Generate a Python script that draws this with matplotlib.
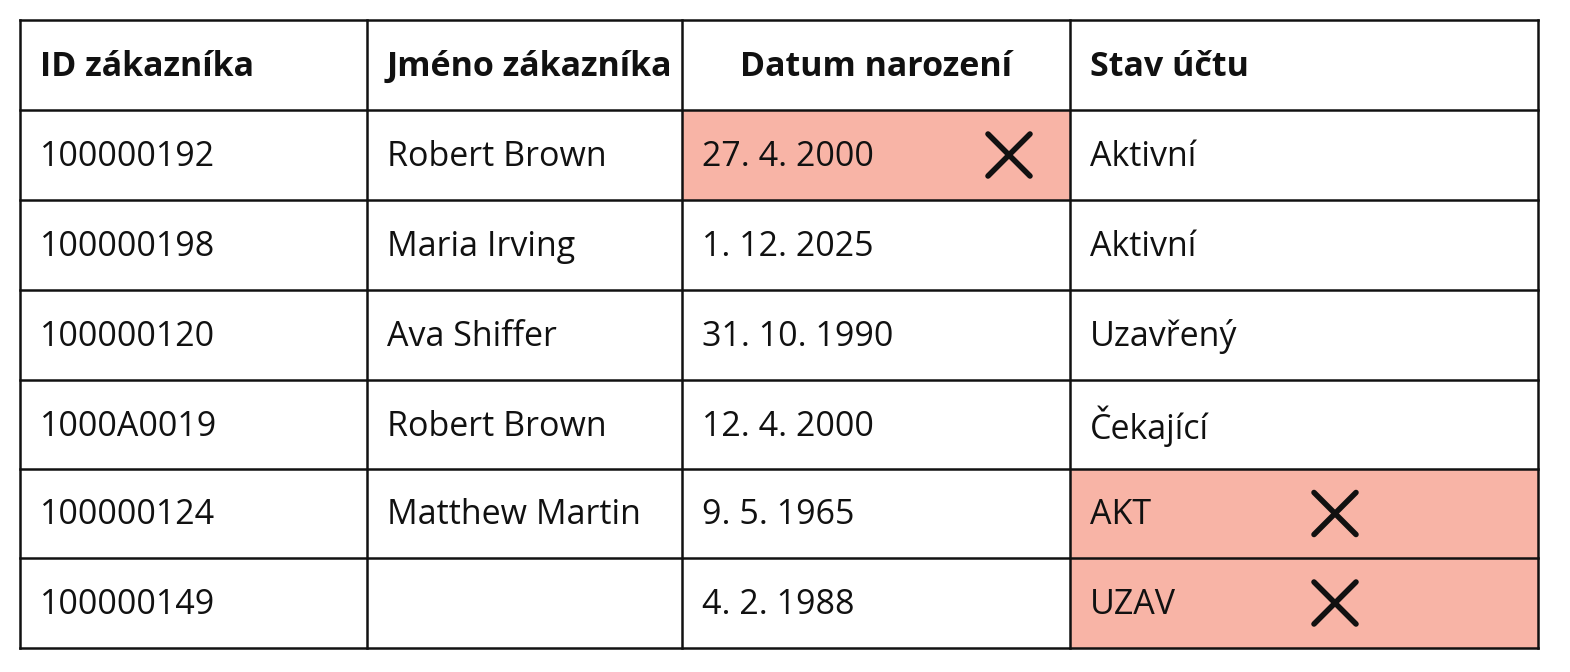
import matplotlib
matplotlib.use("Agg")
import matplotlib.pyplot as plt
from matplotlib.patches import Rectangle

headers = ["ID zákazníka", "Jméno zákazníka", "Datum narození", "Stav účtu"]
ids = ["100000192", "100000198", "100000120", "1000A0019", "100000124", "100000149"]
names = ["Robert Brown", "Maria Irving", "Ava Shiffer", "Robert Brown", "Matthew Martin", ""]
dates = ["27. 4. 2000", "1. 12. 2025", "31. 10. 1990", "12. 4. 2000", "9. 5. 1965", "4. 2. 1988"]
status = ["Aktivní", "Aktivní", "Uzavřený", "Čekající", "AKT", "UZAV"]
errors = [(0, 2), (4, 3), (5, 3)]  # (row, col) flagged cells

col_edges = [20, 367, 682, 1070, 1538]
row_edges = [20, 110, 200, 290, 380, 469, 558, 648]
x_offset = {2: 1009 - 682, 3: 1335 - 1070}
hl = "#F8B4A6"

plt.rcParams['font.family'] = ['Open Sans', 'DejaVu Sans']
fig = plt.figure(figsize=(15.7, 6.72), dpi=100)
ax = fig.add_axes([0, 0, 1, 1])
ax.set_xlim(0, 1570)
ax.set_ylim(672, 0)
ax.axis("off")

for r, c in errors:
    y0, y1 = row_edges[r + 1], row_edges[r + 2]
    ax.add_patch(Rectangle((col_edges[c], y0), col_edges[c + 1] - col_edges[c], y1 - y0,
                           facecolor=hl, edgecolor="none", zorder=1))
    cx = col_edges[c] + x_offset[c]
    cy = (y0 + y1) / 2
    s = 21
    ax.plot([cx - s, cx + s], [cy - s, cy + s], color="#111111", lw=4, solid_capstyle="round", zorder=3)
    ax.plot([cx - s, cx + s], [cy + s, cy - s], color="#111111", lw=4, solid_capstyle="round", zorder=3)

for x in col_edges:
    ax.plot([x, x], [row_edges[0], row_edges[-1]], color="#111111", lw=1.8, zorder=2)
for y in row_edges:
    ax.plot([col_edges[0], col_edges[-1]], [y, y], color="#111111", lw=1.8, zorder=2)

fs = 24.5
dy = 2
for c, h in enumerate(headers):
    cy = (row_edges[0] + row_edges[1]) / 2 + dy
    if c == 2:
        ax.text((col_edges[c] + col_edges[c + 1]) / 2, cy, h, ha="center", va="center",
                fontsize=fs, fontweight="bold", color="#111111", zorder=4)
    else:
        ax.text(col_edges[c] + 20, cy, h, ha="left", va="center",
                fontsize=fs, fontweight="bold", color="#111111", zorder=4)

cols = [ids, names, dates, status]
for c, vals in enumerate(cols):
    for r, v in enumerate(vals):
        cy = (row_edges[r + 1] + row_edges[r + 2]) / 2 + dy
        ax.text(col_edges[c] + 20, cy, v, ha="left", va="center", fontsize=fs,
                color="#111111", zorder=4)

fig.savefig("out.png", dpi=100, facecolor="white")
